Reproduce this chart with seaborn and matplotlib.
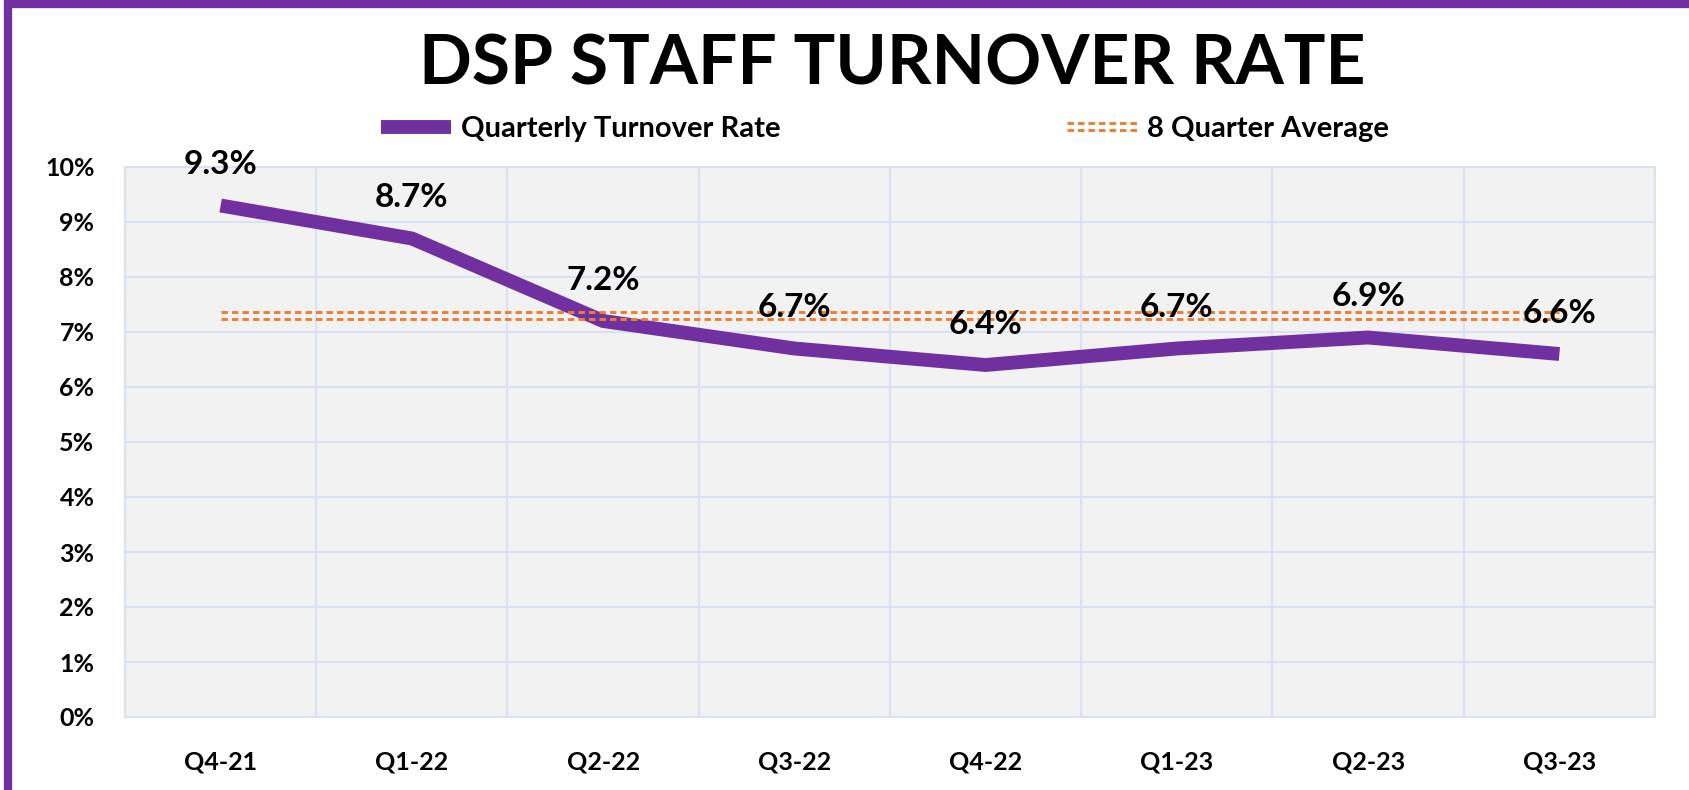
import matplotlib
matplotlib.use("Agg")
import matplotlib.pyplot as plt
import matplotlib.patheffects as pe
from matplotlib.patches import Rectangle
from matplotlib.lines import Line2D
import seaborn as sns
import pandas as pd

# data
quarters = ['Q4-21', 'Q1-22', 'Q2-22', 'Q3-22', 'Q4-22', 'Q1-23', 'Q2-23', 'Q3-23']
turnover = [9.3, 8.7, 7.2, 6.7, 6.4, 6.7, 6.9, 6.6]
avg_8q = [7.3, 7.3, 7.3, 7.3, 7.3, 7.3, 7.3, 7.3]
y_ticks = [0, 1, 2, 3, 4, 5, 6, 7, 8, 9, 10]

purple = '#7030A0'
orange = '#ED7D31'
grid_c = '#D9E1F2'

sns.set_style('white')
plt.rcParams['font.family'] = ['Lato', 'DejaVu Sans']
plt.rcParams['font.weight'] = 'bold'
plt.rcParams['text.color'] = 'black'
plt.rcParams['xtick.color'] = 'black'
plt.rcParams['ytick.color'] = 'black'

df = pd.DataFrame({'Quarter': quarters, 'Rate': turnover, 'Avg': avg_8q})

fig = plt.figure(figsize=(16.9, 7.9), dpi=100)
ax = fig.add_axes([125 / 1690, 73 / 790, 1530 / 1690, 550 / 790])
ax.set_facecolor('#F2F2F2')

sns.lineplot(data=df, x='Quarter', y='Rate', ax=ax, color=purple, linewidth=10,
             solid_capstyle='butt', solid_joinstyle='miter', sort=False, zorder=3)

# double dashed average line
dbl = [pe.Stroke(offset=(0, 2.4)), pe.Stroke(offset=(0, -2.4))]
avg_style = dict(color=orange, linewidth=2.1, linestyle=(0, (2.2, 1.4)))
sns.lineplot(data=df, x='Quarter', y='Avg', ax=ax, sort=False, zorder=4,
             path_effects=dbl, **avg_style)

for i, v in enumerate(turnover):
    ax.annotate(f'{v:.1f}%', (i, v), xytext=(0, 19), textcoords='offset points',
                ha='center', va='bottom', fontsize=24, fontweight='bold', zorder=5)

ax.set_xlim(-0.5, len(quarters) - 0.5)
ax.set_ylim(0, 10)
ax.set_yticks(y_ticks)
ax.set_yticklabels([f'{t}%' for t in y_ticks])
ax.set_xticks(range(len(quarters)))
ax.set_xticklabels(quarters)
ax.tick_params(axis='y', length=0, pad=22, labelsize=18)
ax.tick_params(axis='x', length=0, pad=24, labelsize=18)
ax.set_xlabel('')
ax.set_ylabel('')

# gridlines: horizontal at each percent, vertical at category boundaries
for t in y_ticks:
    ax.axhline(t, color=grid_c, linewidth=1.5, zorder=1)
for b in range(len(quarters) + 1):
    ax.axvline(b - 0.5, color=grid_c, linewidth=1.5, zorder=1)
for s in ax.spines.values():
    s.set_color(grid_c)
    s.set_linewidth(1.5)

fig.text(892 / 1690, 1 - 65 / 790, 'DSP STAFF TURNOVER RATE', ha='center', va='center',
         fontsize=50, fontweight='bold')

h1 = Line2D([], [], color=purple, linewidth=10, solid_capstyle='butt')
h2 = Line2D([], [], path_effects=dbl, **avg_style)
fig.legend([h1, h2], ['Quarterly Turnover Rate', '8 Quarter Average'], ncol=2,
           loc='center', bbox_to_anchor=(885 / 1690, 1 - 129 / 790), frameon=False,
           prop={'size': 21, 'weight': 'bold'}, handlelength=2.4, handletextpad=0.35,
           columnspacing=9.8)

# purple frame around the chart
fig.patches.append(Rectangle((8 / 1690, -2 / 790), 1.02, 788 / 790, transform=fig.transFigure,
                             fill=False, edgecolor=purple, linewidth=6, zorder=10))

fig.savefig('out.png', dpi=100)
